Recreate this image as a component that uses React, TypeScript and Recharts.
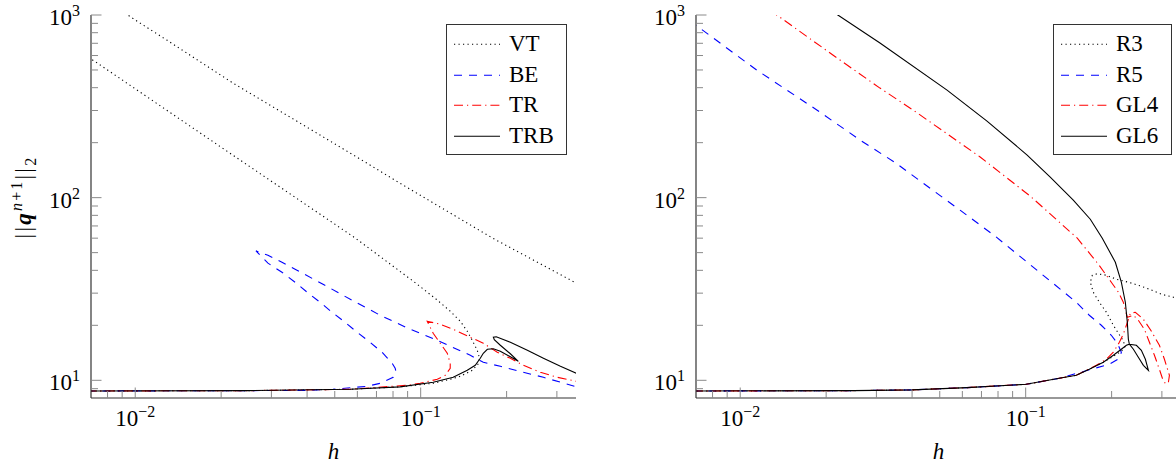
import React from "react";
import { LineChart, Line, XAxis, YAxis } from "recharts";

// ---- axis ticks (log scales) ----
const hTicks = [0.008, 0.009, 0.01, 0.02, 0.03, 0.04, 0.05, 0.06, 0.07, 0.08, 0.09, 0.1, 0.2, 0.3];
const qTicks = [9, 10, 20, 30, 40, 50, 60, 70, 80, 90, 100, 200, 300, 400, 500, 600, 700, 800, 900, 1000];
const hDomain = [0.007, 0.35];
const qDomain = [8, 1000];

// ---- left panel ----
const vtUpperH = [0.0092, 0.01, 0.0129, 0.022, 0.0378, 0.0648, 0.0834, 0.178, 0.3512];
const vtUpperQ = [1025, 939, 729, 424, 256, 154.5, 121.6, 60.2, 34.0];
const vtLowerH = [0.00665, 0.00725, 0.0206, 0.0589, 0.0941, 0.1124, 0.1269, 0.1376, 0.1456, 0.1516, 0.1578, 0.1604, 0.1598, 0.1516, 0.1376, 0.1269, 0.1106, 0.0847, 0.0566, 0.0252, 0.0068];
const vtLowerQ = [604, 555, 183, 60.2, 34.9, 28.1, 23.9, 21.05, 18.55, 16.57, 14.6, 13.37, 12.4, 11.34, 10.52, 10.13, 9.63, 9.21, 8.93, 8.78, 8.74];

const beH = [0.0068, 0.025, 0.04, 0.0493, 0.0566, 0.0649, 0.0721, 0.0801, 0.082, 0.0814, 0.0794, 0.0732, 0.0665, 0.0599, 0.0543, 0.0489, 0.0444, 0.04, 0.0363, 0.03266, 0.02917, 0.02647, 0.02917, 0.03266, 0.03687, 0.04548, 0.05749, 0.0721, 0.0904, 0.1143, 0.1492, 0.1657, 0.1901, 0.2691, 0.3512];
const beQ = [8.74, 8.78, 8.81, 8.93, 9.1, 9.27, 9.63, 10.38, 11.06, 11.63, 12.4, 14.24, 16.15, 18.32, 20.79, 23.59, 26.76, 30.36, 34.44, 39.07, 43.77, 51.1, 48.4, 44.3, 40.07, 33.57, 27.44, 22.71, 19.27, 16.57, 13.71, 12.55, 11.93, 10.38, 9.21];

const trH = [0.0068, 0.025, 0.0566, 0.0897, 0.0996, 0.1143, 0.1219, 0.1269, 0.1269, 0.1239, 0.1171, 0.1106, 0.1054, 0.1171, 0.1322, 0.1492, 0.1657, 0.1855, 0.2061, 0.2289, 0.2626, 0.3012, 0.3512];
const trQ = [8.74, 8.78, 8.93, 9.39, 9.63, 10.13, 10.65, 11.63, 12.4, 14.06, 15.95, 18.09, 21.05, 20.27, 18.79, 17.2, 15.95, 14.24, 13.2, 12.08, 11.06, 10.38, 9.87];

const trbH = [0.0068, 0.025, 0.0566, 0.0847, 0.1106, 0.13, 0.1456, 0.1553, 0.1617, 0.1657, 0.1712, 0.1797, 0.1901, 0.2061, 0.2198, 0.2061, 0.1901, 0.1811, 0.1797, 0.184, 0.2061, 0.2364, 0.2691, 0.3087, 0.3512];
const trbQ = [8.74, 8.78, 8.93, 9.21, 9.75, 10.38, 11.34, 12.08, 13.2, 14.06, 14.79, 14.88, 14.42, 13.45, 12.71, 13.97, 15.55, 16.67, 17.2, 17.31, 16.15, 14.6, 13.2, 11.93, 10.92];

// ---- right panel ----
const r3H = [0.0068, 0.025, 0.04, 0.0623, 0.1004, 0.1311, 0.1504, 0.167, 0.187, 0.2028, 0.2163, 0.2234, 0.2181, 0.2112, 0.2028, 0.1917, 0.1811, 0.1725, 0.1684, 0.1712, 0.1782, 0.1917, 0.2077, 0.2289, 0.2481, 0.2713, 0.2988, 0.3293, 0.3512];
const r3Q = [8.74, 8.78, 8.86, 9.12, 9.51, 10.26, 10.65, 11.49, 12.55, 13.53, 14.42, 15.36, 16.78, 18.09, 20.02, 23.59, 26.76, 30.36, 34.44, 37.61, 38.33, 37.61, 35.75, 34.44, 33.15, 31.52, 29.6, 28.5, 27.61];

const r5H = [0.00665, 0.00721, 0.01143, 0.01855, 0.02626, 0.03512, 0.04369, 0.0589, 0.0782, 0.1504, 0.167, 0.184, 0.1995, 0.2095, 0.2163, 0.2129, 0.1963, 0.167, 0.1311, 0.1004, 0.0623, 0.04, 0.025, 0.0068];
const r5Q = [927, 849, 499, 302, 207, 154.5, 120.1, 85.4, 61.5, 26.76, 22.71, 20.02, 17.64, 15.95, 14.24, 13.2, 12.24, 11.41, 10.26, 9.51, 9.12, 8.86, 8.78, 8.74];

const gl4H = [0.01269, 0.01343, 0.02111, 0.03087, 0.04029, 0.06925, 0.1037, 0.1516, 0.1797, 0.1995, 0.2112, 0.2198, 0.2234, 0.227, 0.2384, 0.2481, 0.2605, 0.2713, 0.2825, 0.294, 0.3012, 0.3087, 0.3162, 0.3188, 0.3062, 0.294, 0.2757, 0.2584, 0.2422, 0.2327, 0.2253, 0.2198, 0.2129, 0.2028, 0.1917, 0.1768, 0.1504, 0.1311, 0.1004, 0.0623, 0.04, 0.025, 0.0068];
const gl4Q = [1065, 1000, 604, 398, 302, 167, 102, 60, 43.2, 34.44, 30.36, 26.76, 24.19, 22.14, 22.71, 21.32, 19.03, 16.15, 13.71, 11.49, 10.26, 9.57, 9.75, 10.65, 13.04, 15.55, 18.55, 21.59, 23.59, 23.29, 20.02, 17.87, 16.15, 14.24, 13.04, 12.08, 10.65, 10.26, 9.51, 9.12, 8.86, 8.78, 8.74];

const gl6H = [0.02044, 0.02198, 0.03087, 0.05303, 0.0732, 0.1012, 0.1219, 0.1468, 0.1684, 0.1855, 0.2061, 0.2163, 0.2234, 0.227, 0.2289, 0.2308, 0.2442, 0.2542, 0.2626, 0.2691, 0.2584, 0.2481, 0.2384, 0.2308, 0.2253, 0.2163, 0.2028, 0.187, 0.167, 0.1504, 0.1311, 0.1004, 0.0623, 0.04, 0.025, 0.0068];
const gl6Q = [1079, 1000, 702, 388, 262.6, 171, 129.5, 96.9, 76.2, 60, 44.3, 34.44, 26.76, 20.79, 16.78, 15.75, 15.55, 14.6, 13.04, 11.34, 12.08, 13.37, 14.79, 15.75, 15.55, 14.79, 13.71, 12.55, 11.49, 10.65, 10.26, 9.51, 9.12, 8.86, 8.78, 8.74];

type Pt = { h: number; q: number | null };
type Series = { name: string; color: string; dash?: string; data: Pt[] };

const zip = (h: number[], q: number[]): Pt[] => h.map((v, i) => ({ h: v, q: q[i] }));

const DOTTED = "1.2 3.3";
const DASHED = "8 7";
const DASHDOT = "9 4 1.2 4";

const leftSeries: Series[] = [
  { name: "VT", color: "#000000", dash: DOTTED, data: [...zip(vtUpperH, vtUpperQ), { h: 0.35, q: null }, ...zip(vtLowerH, vtLowerQ)] },
  { name: "BE", color: "#0000ff", dash: DASHED, data: zip(beH, beQ) },
  { name: "TR", color: "#ff0000", dash: DASHDOT, data: zip(trH, trQ) },
  { name: "TRB", color: "#000000", data: zip(trbH, trbQ) },
];

const rightSeries: Series[] = [
  { name: "R3", color: "#000000", dash: DOTTED, data: zip(r3H, r3Q) },
  { name: "R5", color: "#0000ff", dash: DASHED, data: zip(r5H, r5Q) },
  { name: "GL4", color: "#ff0000", dash: DASHDOT, data: zip(gl4H, gl4Q) },
  { name: "GL6", color: "#000000", data: zip(gl6H, gl6Q) },
];

// ---- layout ----
const FONT = "Liberation Serif, serif";
const W = 600;
const H = 466;
const MAJOR = 10.5;
const MINOR = 7;
const TICK_COLOR = "#8a8a8a";
const AXIS = { stroke: "#333", strokeWidth: 1.2 };
const FS = 23;
const SUP = 16;
const TXT = { fontFamily: FONT, fontSize: FS };

function decade(v: number): number | null {
  const e = Math.log10(v);
  const r = Math.round(e);
  return Math.abs(e - r) < 1e-6 ? r : null;
}
const expText = (e: number) => (e < 0 ? "\u2212" + Math.abs(e) : String(e));

function BottomTick({ x, y, payload }: any) {
  const e = decade(payload.value);
  return (
    <g>
      <line x1={x} x2={x} y1={y} y2={y - (e === null ? MINOR : MAJOR)} stroke={TICK_COLOR} />
      {e !== null && (
        <text x={x} y={y + 28} textAnchor="middle" style={TXT} fill="#000">
          10<tspan dy={-9} style={{ fontSize: SUP }}>{expText(e)}</tspan>
        </text>
      )}
    </g>
  );
}

function TopTick({ x, y, payload }: any) {
  const e = decade(payload.value);
  return <line x1={x} x2={x} y1={y} y2={y + (e === null ? MINOR : MAJOR)} stroke={TICK_COLOR} />;
}

function LeftTick({ x, y, payload }: any) {
  const e = decade(payload.value);
  return (
    <g>
      <line x1={x} x2={x + (e === null ? MINOR : MAJOR)} y1={y} y2={y} stroke={TICK_COLOR} />
      {e !== null && (
        <text x={x - 11} y={y + 10} textAnchor="end" style={TXT} fill="#000">
          10<tspan dy={-9} style={{ fontSize: SUP }}>{expText(e)}</tspan>
        </text>
      )}
    </g>
  );
}

function RightTick({ x, y, payload }: any) {
  const e = decade(payload.value);
  return <line x1={x} x2={x - (e === null ? MINOR : MAJOR)} y1={y} y2={y} stroke={TICK_COLOR} />;
}

function Panel({ series }: { series: Series[] }) {
  const common = { type: "number" as const, scale: "log" as const, allowDataOverflow: true, interval: 0 as const, tickSize: 0, tickMargin: 0, tickLine: false, axisLine: AXIS };
  return (
    <LineChart width={W} height={H} margin={{ top: 15, right: 24, bottom: 0, left: 0 }} style={{ fontFamily: FONT }}>
      <XAxis xAxisId="b" dataKey="h" domain={hDomain} ticks={hTicks} height={68} tick={(p: any) => <BottomTick {...p} />} {...common} />
      <XAxis xAxisId="t" dataKey="h" orientation="top" domain={hDomain} ticks={hTicks} height={0} tick={(p: any) => <TopTick {...p} />} {...common} />
      <YAxis yAxisId="l" domain={qDomain} ticks={qTicks} width={91} tick={(p: any) => <LeftTick {...p} />} {...common} />
      <YAxis yAxisId="r" orientation="right" domain={qDomain} ticks={qTicks} width={0} tick={(p: any) => <RightTick {...p} />} {...common} />
      {series.map((s) => (
        <Line
          key={s.name}
          xAxisId="b"
          yAxisId="l"
          data={s.data}
          dataKey="q"
          type="linear"
          stroke={s.color}
          strokeWidth={1.1}
          strokeDasharray={s.dash}
          dot={false}
          activeDot={false}
          isAnimationActive={false}
        />
      ))}
    </LineChart>
  );
}

// legend drawn as plain HTML boxes over the plot
function LegendBox({ left, width, series }: { left: number; width: number; series: Series[] }) {
  return (
    <div style={{ position: "absolute", left, top: 24, width, height: 131, border: "1.1px solid #333", background: "#fff", boxSizing: "border-box", fontFamily: FONT, fontSize: FS }}>
      {series.map((s, i) => (
        <div key={s.name} style={{ position: "absolute", left: 0, top: 4 + i * 30.5, height: 30, display: "flex", alignItems: "center" }}>
          <svg width={62} height={30}>
            <line x1={7} x2={53} y1={15.3} y2={15.3} stroke={s.color} strokeWidth={1.1} strokeDasharray={s.dash} />
          </svg>
          <span style={{ lineHeight: "30px", color: "#000" }}>{s.name}</span>
        </div>
      ))}
    </div>
  );
}

export default function App() {
  return (
    <div style={{ position: "absolute", left: 0, top: 0, width: 1176, height: 466, overflow: "hidden", background: "#fff", fontFamily: FONT }}>
      <div style={{ position: "absolute", left: 0, top: 0 }}>
        <Panel series={leftSeries} />
      </div>
      <div style={{ position: "absolute", left: 605, top: 0 }}>
        <Panel series={rightSeries} />
      </div>
      <LegendBox left={446} width={120.5} series={leftSeries} />
      <LegendBox left={1053} width={118.5} series={rightSeries} />
      <svg width={1176} height={466} style={{ position: "absolute", left: 0, top: 0, pointerEvents: "none" }}>
        <text x={333.5} y={459} textAnchor="middle" style={{ ...TXT, fontStyle: "italic" }}>h</text>
        <text x={938.5} y={459} textAnchor="middle" style={{ ...TXT, fontStyle: "italic" }}>h</text>
        <text transform="translate(31,197) rotate(-90)" textAnchor="middle" style={{ ...TXT, letterSpacing: 2.2 }}>
          <tspan>||</tspan>
          <tspan style={{ fontWeight: "bold", fontStyle: "italic" }}>q</tspan>
          <tspan dy={-9} style={{ fontSize: SUP, fontStyle: "italic" }}>n</tspan>
          <tspan style={{ fontSize: SUP }}>+1</tspan>
          <tspan dy={9}>||</tspan>
          <tspan dy={5} style={{ fontSize: SUP }}>2</tspan>
        </text>
      </svg>
    </div>
  );
}
